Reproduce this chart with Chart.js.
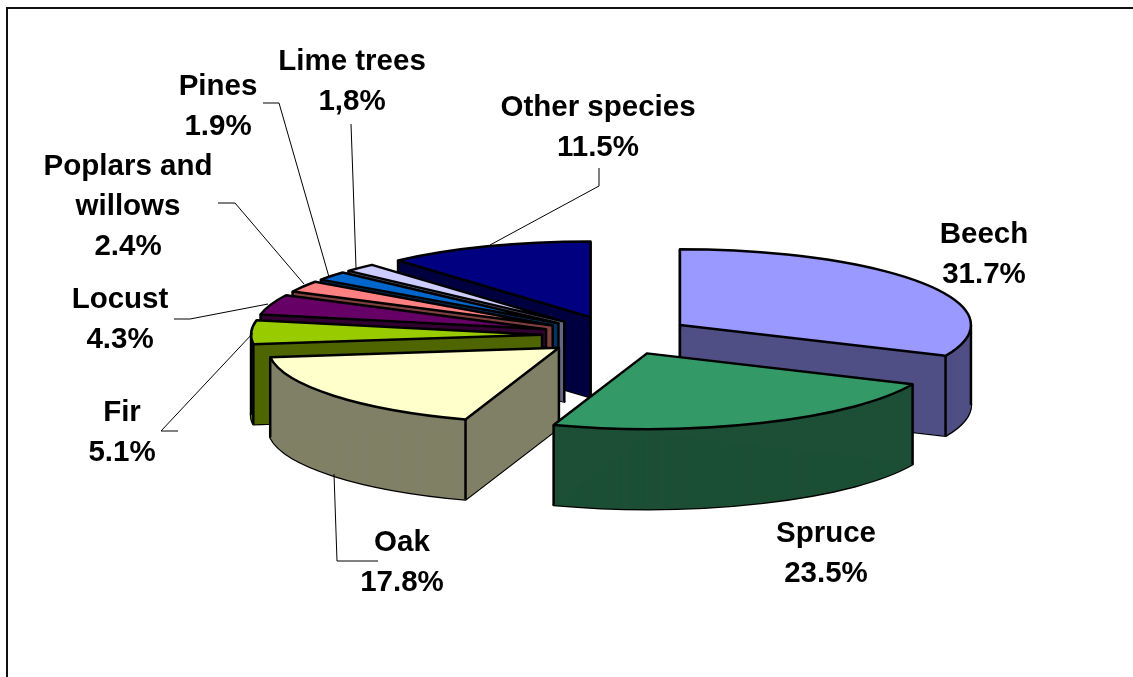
<!DOCTYPE html>
<html>
<head>
<meta charset="utf-8">
<title>Tree species</title>
<script src="https://cdn.jsdelivr.net/npm/chart.js@4"></script>
<style>
  html, body { margin: 0; padding: 0; background: #fff; overflow: hidden; }
  canvas { display: block; }
</style>
</head>
<body>
<canvas id="chart1" width="1133" height="677"></canvas>
<script>
const species = ['Beech', 'Spruce', 'Oak', 'Fir', 'Locust', 'Poplars and willows', 'Pines', 'Lime trees', 'Other species'];
const shares = [31.7, 23.5, 17.8, 5.1, 4.3, 2.4, 1.9, 1.8, 11.5];
const shareTexts = ['31.7%', '23.5%', '17.8%', '5.1%', '4.3%', '2.4%', '1.9%', '1,8%', '11.5%'];
const topColors = ['#9999ff', '#339966', '#ffffcc', '#99cc00', '#660066', '#ff8080', '#0066cc', '#ccccff', '#000080'];
const sideColors = ['#4f4f85', '#1c4f35', '#808066', '#4f6600', '#330033', '#804040', '#003366', '#666680', '#000040'];

// label placement: text lines, centre x, first baseline y
const labelLines = [['Beech'], ['Spruce'], ['Oak'], ['Fir'], ['Locust'], ['Poplars and', 'willows'], ['Pines'], ['Lime trees'], ['Other species']];
const labelPos = [[984, 243], [826, 542], [402, 551], [122, 421], [120, 308], [128, 175], [218, 95], [352, 70], [598, 116]];
// leader lines drawn between label and slice
const leaders = [
  null, null,
  [[378, 561], [337, 561], [334, 474]],
  [[178, 431], [161, 431], [253, 333]],
  [[174, 319], [190, 319], [268, 304]],
  [[218, 203], [235, 203], [304, 284]],
  [[263, 103], [279, 103], [329, 277]],
  [[351, 124], [353, 180], [356, 268]],
  [[599, 168], [599, 186], [490, 245]]
];

const drawOrder = [8, 7, 6, 5, 4, 3, 2, 0, 1];
const squash = 0.26;    // ellipse height / width
const depth = 80;       // wall height
const explode = 75;     // gap of each slice from the middle
const centerY = 335.5;

function slicePath(ctx, arc) {
  ctx.beginPath();
  ctx.moveTo(arc.x, arc.y);
  ctx.arc(arc.x, arc.y, arc.outerRadius, arc.startAngle, arc.endAngle);
  ctx.closePath();
}

const pie3d = {
  id: 'pie3d',
  beforeDraw(chart) {
    const c = chart.ctx;
    c.save();
    c.strokeStyle = '#111';
    c.lineWidth = 2;
    c.beginPath();
    c.moveTo(7, 677);
    c.lineTo(7, 8);
    c.lineTo(1133, 8);
    c.stroke();
    c.restore();
  },
  beforeDatasetDraw(chart, args) {
    const c = chart.ctx;
    const arcs = args.meta.data;
    const project = (a) => {
      const mid = (a.startAngle + a.endAngle) / 2;
      c.translate(0, centerY);
      c.scale(1, squash);
      c.translate(Math.cos(mid) * explode, Math.sin(mid) * explode - a.y);
    };
    drawOrder.forEach((i) => {
      const a = arcs[i];
      const opts = a.options;
      c.lineJoin = 'round';
      c.strokeStyle = '#000';
      c.lineWidth = 2.5;

      const mid = (a.startAngle + a.endAngle) / 2;
      const ox = Math.cos(mid) * explode;
      const oy = Math.sin(mid) * explode * squash + centerY;
      const px = (ang, r) => a.x + ox + Math.cos(ang) * r;
      const py = (ang, r) => oy + Math.sin(ang) * r * squash;

      // bottom edge, the walls paint over the hidden part
      c.save();
      c.translate(0, depth);
      project(a);
      slicePath(c, a);
      c.setTransform(c.getTransform().scale(1, 1 / squash));
      c.stroke();
      c.restore();

      // walls: the slice repeated downwards in the dark colour
      a.options = Object.assign(Object.create(opts), { backgroundColor: sideColors[i], borderWidth: 0 });
      for (let d = depth; d > 0; d--) {
        c.save();
        c.translate(0, d);
        project(a);
        a.draw(c);
        c.restore();
      }
      // the flat cut walls, thin slices leave gaps in the stack
      c.fillStyle = sideColors[i];
      [a.startAngle, a.endAngle].forEach((ang) => {
        c.beginPath();
        c.moveTo(px(0, 0), py(0, 0));
        c.lineTo(px(ang, a.outerRadius), py(ang, a.outerRadius));
        c.lineTo(px(ang, a.outerRadius), py(ang, a.outerRadius) + depth);
        c.lineTo(px(0, 0), py(0, 0) + depth);
        c.closePath();
        c.fill();
      });

      // vertical edges of the visible faces
      const s = a.startAngle + Math.PI / 2;
      const e = a.endAngle + Math.PI / 2;
      const startWall = -Math.sin(s) > -0.01;
      const endWall = Math.sin(e) > -0.01;
      const vertical = (ang, r) => {
        c.beginPath();
        c.moveTo(px(ang, r), py(ang, r));
        c.lineTo(px(ang, r), py(ang, r) + depth);
        c.stroke();
      };
      if (startWall || endWall) vertical(0, 0);
      if (startWall || Math.cos(s) < 0) vertical(a.startAngle, a.outerRadius);
      if (endWall || Math.cos(e) < 0) vertical(a.endAngle, a.outerRadius);
      [0, Math.PI, 2 * Math.PI].forEach((t) => {
        if (t > a.startAngle && t < a.endAngle) vertical(t, a.outerRadius);
      });

      // top face
      a.options = Object.assign(Object.create(opts), { borderWidth: 0 });
      c.save();
      project(a);
      a.draw(c);
      slicePath(c, a);
      c.setTransform(c.getTransform().scale(1, 1 / squash));
      c.stroke();
      c.restore();
      a.options = opts;
    });
    return false;
  },
  afterDraw(chart) {
    const c = chart.ctx;
    c.save();
    c.strokeStyle = '#000';
    c.lineWidth = 1;
    leaders.forEach((pts) => {
      if (!pts) return;
      c.beginPath();
      pts.forEach((p, n) => (n ? c.lineTo(p[0], p[1]) : c.moveTo(p[0], p[1])));
      c.stroke();
    });
    c.fillStyle = '#000';
    c.font = 'bold 29.5px "Liberation Sans"';
    c.textAlign = 'center';
    labelLines.forEach((lines, i) => {
      [...lines, shareTexts[i]].forEach((t, n) => c.fillText(t, labelPos[i][0], labelPos[i][1] + n * 40));
    });
    c.restore();
  }
};

const ctx1 = document.getElementById('chart1').getContext('2d');
const chart1 = new Chart(ctx1, {
  type: 'pie',
  data: {
    labels: species,
    datasets: [{
      data: shares,
      backgroundColor: topColors,
      borderWidth: 0,
      clip: false
    }]
  },
  options: {
    responsive: false,
    animation: false,
    radius: 291,
    layout: { padding: { left: 101 } },
    events: [],
    plugins: { legend: { display: false }, tooltip: { enabled: false } }
  },
  plugins: [pie3d]
});
</script>
</body>
</html>
